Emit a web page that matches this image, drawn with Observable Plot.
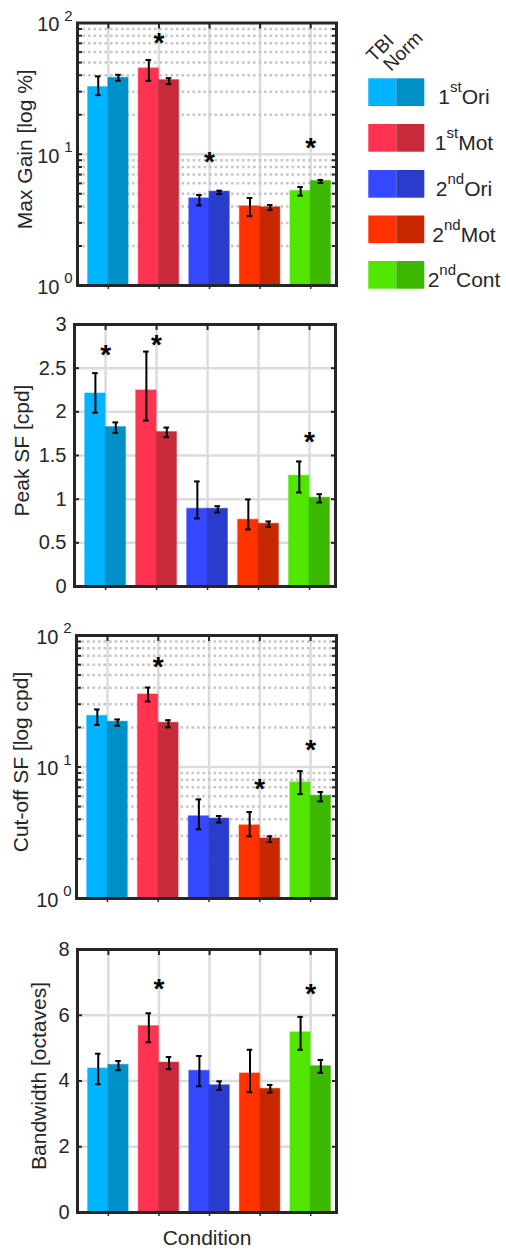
<!DOCTYPE html>
<html><head><meta charset="utf-8">
<script src="https://cdn.jsdelivr.net/npm/d3@7"></script>
<script src="https://cdn.jsdelivr.net/npm/@observablehq/plot@0.6"></script>
<style>
body{margin:0;background:#fff;font-family:"Liberation Sans",Arial,sans-serif;}
#root{position:relative;width:506px;height:1250px;overflow:hidden;background:#fff;}
.panel{position:absolute;left:0;}
.panel svg{overflow:visible;}
</style></head><body><div id="root"></div>
<script>
// ---------- data ----------
const conditions = ["1st Ori", "1st Mot", "2nd Ori", "2nd Mot", "2nd Cont"];
const groups = ["TBI", "Norm"];
const legendNum = ["1", "1", "2", "2", "2"];
const legendSup = ["st", "st", "nd", "nd", "nd"];
const legendName = ["Ori", "Mot", "Ori", "Mot", "Cont"];
const colorsTBI = ["#00b4ff", "#ff3250", "#3448ff", "#ff3200", "#50e600"];
const colorsNorm = ["#0090c8", "#c82a3c", "#2a3ccc", "#c82800", "#3cb800"];

// Max Gain [log %]
const gainTBI = [32.5, 45.1, 4.61, 4.01, 5.25];
const gainTBILo = [28.2, 36.3, 4.08, 3.38, 4.84];
const gainTBIHi = [39.2, 52.2, 4.89, 4.64, 5.63];
const gainNorm = [38.2, 36.7, 5.19, 3.94, 6.25];
const gainNormLo = [36.3, 34.2, 4.98, 3.76, 6.04];
const gainNormHi = [40.3, 38.0, 5.28, 4.10, 6.37];
const gainStarCond = [2, 3, 5];
const gainStarY = [75, 9.4, 11.9];

// Peak SF [cpd]
const peakTBI = [2.21, 2.245, 0.89, 0.764, 1.268];
const peakTBILo = [1.99, 1.90, 0.779, 0.653, 1.077];
const peakTBIHi = [2.443, 2.69, 1.203, 0.997, 1.432];
const peakNorm = [1.825, 1.768, 0.89, 0.718, 1.016];
const peakNormLo = [1.76, 1.71, 0.848, 0.68, 0.962];
const peakNormHi = [1.879, 1.82, 0.92, 0.745, 1.057];
const peakStarCond = [1, 2, 5];
const peakStarY = [2.70, 2.81, 1.70];

// Cut-off SF [log cpd]
const cutTBI = [24.5, 35.6, 4.22, 3.60, 7.64];
const cutTBILo = [20.9, 31.5, 3.36, 2.97, 6.22];
const cutTBIHi = [27.4, 40.2, 5.67, 4.54, 9.31];
const cutNorm = [22.1, 21.7, 4.05, 2.86, 6.05];
const cutNormLo = [20.6, 20.0, 3.78, 2.69, 5.48];
const cutNormHi = [23.0, 22.7, 4.24, 2.97, 6.45];
const cutStarCond = [2, 4, 5];
const cutStarY = [61.5, 7.25, 14.4];

// Bandwidth [octaves]
const bwTBI = [4.38, 5.67, 4.31, 4.23, 5.48];
const bwTBILo = [3.90, 5.18, 3.84, 3.66, 4.95];
const bwTBIHi = [4.83, 6.06, 4.76, 4.95, 5.95];
const bwNorm = [4.49, 4.56, 3.87, 3.76, 4.45];
const bwNormLo = [4.33, 4.36, 3.73, 3.65, 4.25];
const bwNormHi = [4.61, 4.73, 3.99, 3.88, 4.64];
const bwStarCond = [2, 5];
const bwStarY = [6.93, 6.77];

// tick values
const logMajor = [1, 10, 100];
const logExp = ["0", "1", "2"];
const logMinor = [2,3,4,5,6,7,8,9,20,30,40,50,60,70,80,90];
const peakTicks = [0, 0.5, 1, 1.5, 2, 2.5, 3];
const peakTickLabels = ["0", "0.5", "1", "1.5", "2", "2.5", "3"];
const bwTicks = [0, 2, 4, 6, 8];
const bwTickLabels = ["0", "2", "4", "6", "8"];

// ---------- helpers ----------
const FONT = '"Liberation Sans", Arial, sans-serif';
const INK = "#262626";
const catPos = conditions.map((c, i) => i + 1);

function rowsOf(t, tl, th, n, nl, nh) {
  return conditions.flatMap((c, i) => [
    {c: i + 1, g: "TBI", off: -1, v: t[i], lo: tl[i], hi: th[i], color: colorsTBI[i]},
    {c: i + 1, g: "Norm", off: 1, v: n[i], lo: nl[i], hi: nh[i], color: colorsNorm[i]}
  ]);
}

function panel(cfg) {
  const rows = rowsOf(...cfg.series);
  const stars = cfg.starCond.map((c, i) => ({c, y: cfg.starY[i]}));
  const isLog = cfg.type === "log";
  const base = isLog ? 1 : 0;
  const halfBar = 0.4, errOff = 0.2, cap = 0.055;
  const marks = [
    // grid
    Plot.ruleX(catPos, {stroke: "#dcdcdc", strokeWidth: 2.5}),
    ...(isLog ? [Plot.ruleY(logMinor, {stroke: "#c6c6c6", strokeWidth: 2.5, strokeDasharray: "2.6,2.9"})] : []),
    Plot.ruleY(cfg.gridY, {stroke: "#dcdcdc", strokeWidth: 2.5}),
    Plot.axisX({anchor: "bottom", ticks: catPos, tickSize: 4, tickFormat: () => "", stroke: INK, strokeWidth: 1.5, label: null}),
    // bars
    Plot.rectY(rows, {
      x1: d => d.c + (d.off < 0 ? -halfBar : 0),
      x2: d => d.c + (d.off < 0 ? 0 : halfBar),
      y1: () => base, y2: "v", fill: "color", stroke: "color", strokeOpacity: 0.45, strokeWidth: 1.2
    }),
    // error bars
    Plot.ruleX(rows, {x: d => d.c + d.off * errOff, y1: "lo", y2: "hi", stroke: "#000", strokeWidth: 2}),
    Plot.ruleY(rows, {y: "lo", x1: d => d.c + d.off * errOff - cap, x2: d => d.c + d.off * errOff + cap, stroke: "#000", strokeWidth: 2}),
    Plot.ruleY(rows, {y: "hi", x1: d => d.c + d.off * errOff - cap, x2: d => d.c + d.off * errOff + cap, stroke: "#000", strokeWidth: 2}),
    // significance stars
    Plot.text(stars, {x: "c", y: "y", text: () => "*", fontSize: 28, fontWeight: "bold", fill: "#000", dy: 4, fontFamily: FONT}),
    // frame and inner ticks
    Plot.frame({stroke: INK, strokeWidth: 3}),
    Plot.axisX({anchor: "top", ticks: catPos, tickSize: -5, tickFormat: () => "", stroke: INK, strokeWidth: 2, label: null}),
    Plot.axisY({anchor: "left", ticks: cfg.innerTicks, tickSize: -5, tickFormat: () => "", stroke: INK, strokeWidth: 2, label: null}),
    Plot.axisY({anchor: "right", ticks: cfg.innerTicks, tickSize: -5, tickFormat: () => "", stroke: INK, strokeWidth: 2, label: null}),
  ];
  if (isLog) {
    marks.push(
      Plot.text(logMajor, {y: d => d, frameAnchor: "left", textAnchor: "end", dx: -18, dy: 2, text: () => "10", fontSize: 20, fill: INK, fontFamily: FONT}),
      Plot.text(logMajor, {y: d => d, frameAnchor: "left", textAnchor: "end", dx: -5, dy: -7, text: (d, i) => logExp[i], fontSize: 15, fill: INK, fontFamily: FONT})
    );
  } else {
    marks.push(
      Plot.text(cfg.tickVals, {y: d => d, frameAnchor: "left", textAnchor: "end", dx: -8, text: (d, i) => cfg.tickLabels[i], fontSize: 20, fill: INK, fontFamily: FONT})
    );
  }
  marks.push(Plot.text([cfg.label], {frameAnchor: "left", textAnchor: "middle", rotate: -90, dx: cfg.labelDx, dy: -5, text: d => d, fontSize: 21, fill: INK, fontFamily: FONT}));
  if (cfg.xlabel) {
    marks.push(Plot.text([cfg.xlabel], {frameAnchor: "bottom", textAnchor: "middle", dy: 32, text: d => d, fontSize: 21, fill: INK, fontFamily: FONT}));
  }
  const svg = Plot.plot({
    width: 340, height: cfg.height,
    marginLeft: cfg.ml, marginRight: cfg.mr, marginTop: cfg.mt, marginBottom: cfg.mb,
    x: {domain: [0.39, 5.51], axis: null},
    y: isLog ? {type: "log", domain: [1, 100], axis: null} : {domain: cfg.domain, axis: null},
    color: {type: "identity"},
    style: {fontFamily: FONT, background: "transparent", overflow: "visible"},
    marks
  });
  const div = document.createElement("div");
  div.className = "panel";
  div.style.top = cfg.top + "px";
  div.appendChild(svg);
  document.getElementById("root").appendChild(div);
}

panel({type: "log", series: [gainTBI, gainTBILo, gainTBIHi, gainNorm, gainNormLo, gainNormHi],
  starCond: gainStarCond, starY: gainStarY, gridY: [10], innerTicks: [...logMajor, ...logMinor],
  label: "Max Gain [log %]", labelDx: -52, top: 0, height: 302, ml: 77, mr: 4, mt: 22.5, mb: 17});
panel({type: "linear", domain: [0, 3], series: [peakTBI, peakTBILo, peakTBIHi, peakNorm, peakNormLo, peakNormHi],
  starCond: peakStarCond, starY: peakStarY, gridY: peakTicks, innerTicks: peakTicks, tickVals: peakTicks, tickLabels: peakTickLabels,
  label: "Peak SF [cpd]", labelDx: -52, top: 302, height: 302, ml: 74, mr: 5, mt: 22, mb: 18});
panel({type: "log", series: [cutTBI, cutTBILo, cutTBIHi, cutNorm, cutNormLo, cutNormHi],
  starCond: cutStarCond, starY: cutStarY, gridY: [10], innerTicks: [...logMajor, ...logMinor],
  label: "Cut-off SF [log cpd]", labelDx: -55, top: 604, height: 314, ml: 76, mr: 4, mt: 31, mb: 20});
panel({type: "linear", domain: [0, 8], series: [bwTBI, bwTBILo, bwTBIHi, bwNorm, bwNormLo, bwNormHi],
  starCond: bwStarCond, starY: bwStarY, gridY: bwTicks, innerTicks: bwTicks, tickVals: bwTicks, tickLabels: bwTickLabels,
  label: "Bandwidth [octaves]", labelDx: -38, xlabel: "Condition", top: 918, height: 332, ml: 77, mr: 4, mt: 31, mb: 38});

// ---------- legend ----------
(function legend() {
  const svg = d3.select("#root").append("svg")
    .attr("width", 166).attr("height", 300)
    .style("position", "absolute").style("left", "340px").style("top", "0px")
    .style("font-family", FONT);
  svg.append("text").attr("transform", "translate(34,63) rotate(-45)")
    .attr("font-size", 19).attr("fill", INK).text(groups[0]);
  svg.append("text").attr("transform", "translate(51,72) rotate(-45)")
    .attr("font-size", 19).attr("fill", INK).text(groups[1]);
  const rowY = [78.3, 124, 170, 215.5, 261];
  conditions.forEach((c, i) => {
    const g = svg.append("g").attr("transform", `translate(0,${rowY[i]})`);
    g.append("rect").attr("x", 28.3).attr("width", 28).attr("height", 27.7).attr("fill", colorsTBI[i]);
    g.append("rect").attr("x", 56.3).attr("width", 28).attr("height", 27.7).attr("fill", colorsNorm[i]);
    const t = g.append("text").attr("x", 124).attr("y", 26).attr("text-anchor", "middle")
      .attr("font-size", 21).attr("fill", INK);
    t.append("tspan").text(legendNum[i]);
    t.append("tspan").attr("font-size", 15).attr("dy", -12).text(legendSup[i]);
    t.append("tspan").attr("dy", 12).text(legendName[i]);
  });
})();
</script>
</body></html>
